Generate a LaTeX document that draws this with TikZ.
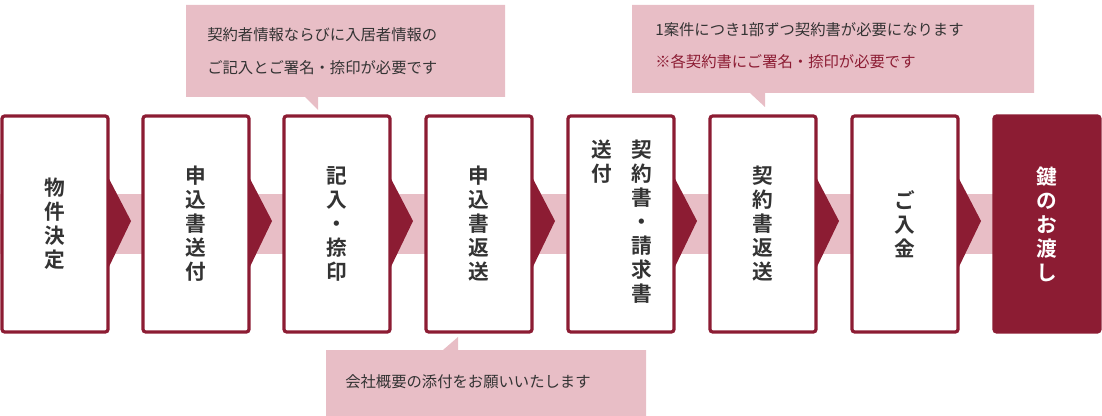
\documentclass[tikz,border=0pt]{standalone}
\usepackage{fontspec}
\setmainfont{Noto Sans CJK JP}
\newfontfamily\jpb{Noto Sans CJK JP Bold}
\definecolor{dred}{HTML}{8C1C33}
\definecolor{lpink}{HTML}{E8BEC6}
\definecolor{tgray}{HTML}{333333}
\begin{document}
\begin{tikzpicture}[x=0.75pt,y=-0.75pt,
  stepbox/.style={draw=dred,line width=2.4pt,fill=white,rounded corners=2pt},
  vt/.style={text=tgray,font=\jpb\fontsize{15.5}{18}\selectfont,align=center,inner sep=0pt},
  ct/.style={text=tgray,font=\fontsize{11.5}{24}\selectfont,align=left,inner sep=0pt,anchor=west},
  arr/.style={fill=dred,draw=none}]
\useasboundingbox (0,0) rectangle (1102,416);
% band
\fill[lpink] (0,194) rectangle (1000,254);
% callouts
\fill[lpink] (186,5) rectangle (505,97) (305,97) -- (318,97) -- (318,110) -- cycle;
\fill[lpink] (632,5) rectangle (1034,93) (750,93) -- (765,93) -- (765,107) -- cycle;
\fill[lpink] (326,350) rectangle (646,416) (443,350) -- (458,350) -- (458,337) -- cycle;
\node[ct] (c1) at (207,35) {契約者情報ならびに入居者情報の};
\node[ct] (c2) at (207,68) {ご記入とご署名・捺印が必要です};
\node[ct] (c3) at (655,30) {1案件につき1部ずつ契約書が必要になります};
\node[ct,text=dred] (c4) at (655,62) {※各契約書にご署名・捺印が必要です};
\node[ct] (c5) at (345,382) {会社概要の添付をお願いいたします};
% boxes and arrows
\foreach \i/\x in {1/2,2/143,3/284,4/426,5/568,6/710,7/852}{
  \fill[arr] (\x+104,173) -- (\x+129,221) -- (\x+104,273) -- cycle;
  \draw[stepbox] (\x,116) rectangle (\x+106,332);
}
\draw[stepbox,fill=dred] (994,116) rectangle (1100,332);
\node[vt] (t1) at (55,224) {物\\件\\決\\定};
\node[vt] (t2) at (196,224) {申\\込\\書\\送\\付};
\node[vt] (t3) at (337,224) {記\\入\\・\\捺\\印};
\node[vt] (t4) at (479,224) {申\\込\\書\\返\\送};
\node[vt,anchor=north] (t5a) at (642,140) {契\\約\\書\\・\\請\\求\\書};
\node[vt,anchor=north] (t5b) at (602,140) {送\\付};
\node[vt] (t6) at (763,224) {契\\約\\書\\返\\送};
\node[vt] (t7) at (905,224) {ご\\入\\金};
\node[vt,text=white] (t8) at (1047,224) {鍵\\の\\お\\渡\\し};
\end{tikzpicture}
\end{document}
